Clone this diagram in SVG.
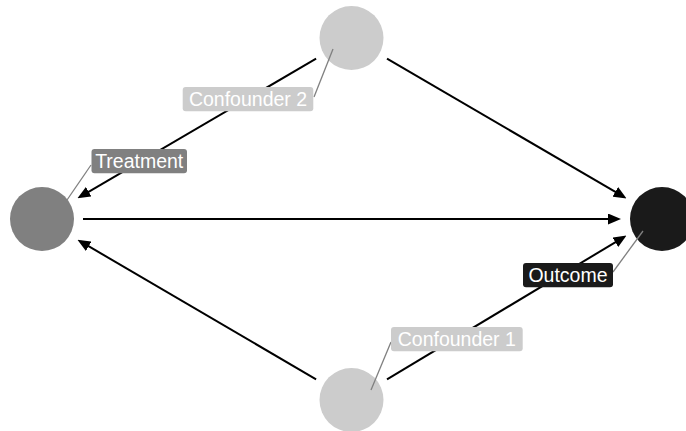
<svg xmlns="http://www.w3.org/2000/svg" width="686" height="431" viewBox="0 0 686 431">
  <style>
    .edge { stroke: #000; stroke-width: 2; fill: none; marker-end: url(#arrow); }
    .lead { stroke: #808080; stroke-width: 1.3; }
    .lbl { font-family: "Liberation Sans", Arial, sans-serif; font-size: 19.5px; fill: #fff; text-anchor: middle; }
    .conf { fill: #cccccc; }
    .treat { fill: #808080; }
    .out { fill: #1a1a1a; }
  </style>
  <defs>
    <marker id="arrow" markerUnits="userSpaceOnUse" markerWidth="13" markerHeight="11" refX="9" refY="5.5" orient="auto">
      <path d="M0,0 L13,5.5 L0,11 z" fill="#000"/>
    </marker>
  </defs>
  <rect width="686" height="431" fill="#fff"/>

  <g id="connectors">
    <line class="edge" x1="83" y1="219" x2="617" y2="219"/>
    <line class="edge" x1="316.1" y1="58.7" x2="80.9" y2="196.3"/>
    <line class="edge" x1="387" y1="58.6" x2="623.1" y2="196.4"/>
    <line class="edge" x1="316.1" y1="379.3" x2="80.9" y2="241.7"/>
    <line class="edge" x1="387" y1="379.4" x2="623.1" y2="237.6"/>
  </g>

  <g id="node-treatment">
    <circle class="treat" cx="42" cy="219" r="32"/>
    <line class="lead" x1="67" y1="200" x2="91" y2="165"/>
    <rect class="treat" x="91.5" y="149" width="95.5" height="24.3" rx="3"/>
    <text class="lbl" x="139.2" y="167.6">Treatment</text>
  </g>

  <g id="node-confounder2">
    <circle class="conf" cx="351.5" cy="38" r="32"/>
    <line class="lead" x1="333" y1="49" x2="314" y2="97"/>
    <rect class="conf" x="182.7" y="87" width="130.6" height="24.3" rx="3"/>
    <text class="lbl" x="248" y="105.6">Confounder 2</text>
  </g>

  <g id="node-outcome">
    <circle class="out" cx="662" cy="219" r="32"/>
    <line class="lead" x1="643" y1="231" x2="613" y2="272"/>
    <rect class="out" x="523" y="263" width="90" height="24.3" rx="3"/>
    <text class="lbl" x="568" y="281.6">Outcome</text>
  </g>

  <g id="node-confounder1">
    <circle class="conf" cx="351.5" cy="400" r="32"/>
    <line class="lead" x1="371" y1="390" x2="391" y2="342"/>
    <rect class="conf" x="391" y="327" width="131.7" height="24.3" rx="3"/>
    <text class="lbl" x="456.8" y="345.6">Confounder 1</text>
  </g>
</svg>
